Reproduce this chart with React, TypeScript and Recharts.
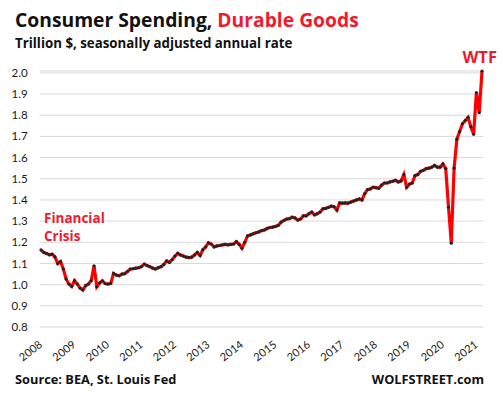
import { LineChart, Line, XAxis, YAxis, CartesianGrid } from 'recharts';

// monthly, trillion $ SAAR
const Y2008 = [1.164, 1.152, 1.147, 1.141, 1.144, 1.131, 1.1, 1.109, 1.074, 1.027, 1.003, 0.992];
const Y2009 = [1.019, 1.003, 0.984, 0.975, 0.995, 1.003, 1.019, 1.089, 0.99, 1.008, 1.018, 1.005];
const Y2010 = [1.003, 1.006, 1.053, 1.045, 1.042, 1.05, 1.052, 1.062, 1.074, 1.075, 1.078, 1.08];
const Y2011 = [1.085, 1.097, 1.09, 1.085, 1.078, 1.074, 1.08, 1.085, 1.095, 1.112, 1.105, 1.118];
const Y2012 = [1.135, 1.148, 1.14, 1.135, 1.13, 1.128, 1.13, 1.14, 1.152, 1.138, 1.165, 1.178];
const Y2013 = [1.198, 1.192, 1.178, 1.183, 1.185, 1.188, 1.19, 1.188, 1.19, 1.192, 1.203, 1.19];
const Y2014 = [1.172, 1.2, 1.23, 1.235, 1.24, 1.245, 1.249, 1.255, 1.258, 1.265, 1.27, 1.272];
const Y2015 = [1.275, 1.28, 1.295, 1.303, 1.31, 1.312, 1.319, 1.315, 1.305, 1.31, 1.325, 1.325];
const Y2016 = [1.335, 1.343, 1.33, 1.335, 1.343, 1.358, 1.36, 1.365, 1.371, 1.368, 1.352, 1.386];
const Y2017 = [1.385, 1.386, 1.385, 1.39, 1.395, 1.4, 1.405, 1.4, 1.43, 1.449, 1.452, 1.46];
const Y2018 = [1.458, 1.455, 1.47, 1.48, 1.48, 1.485, 1.488, 1.493, 1.485, 1.49, 1.52, 1.46];
const Y2019 = [1.475, 1.48, 1.515, 1.52, 1.535, 1.54, 1.548, 1.55, 1.555, 1.563, 1.555, 1.555];
const Y2020 = [1.57, 1.548, 1.366, 1.196, 1.55, 1.687, 1.723, 1.76, 1.775, 1.79, 1.746, 1.71];
const Y2021 = [1.907, 1.812, 2.009];

const YEARS = ['2008', '2009', '2010', '2011', '2012', '2013', '2014', '2015', '2016', '2017', '2018', '2019', '2020', '2021'];
const Y_TICKS = [0.8, 0.9, 1.0, 1.1, 1.2, 1.3, 1.4, 1.5, 1.6, 1.7, 1.8, 1.9, 2.0];

const SERIES = [
  ...Y2008, ...Y2009, ...Y2010, ...Y2011, ...Y2012, ...Y2013, ...Y2014,
  ...Y2015, ...Y2016, ...Y2017, ...Y2018, ...Y2019, ...Y2020, ...Y2021,
];
const data = SERIES.map((v, i) => ({ i, v }));
const yearTicks = YEARS.map((_, k) => k * 12);

const FONT = 'Lato, "Open Sans", sans-serif';
const HEAD = '"Open Sans", Lato, sans-serif';
const RED = '#ee1b2e';

const XTick = ({ x, y, payload }: any) => {
  const label = YEARS[Math.round(payload.value / 12)];
  const ax = x + 2;
  const ay = y + 19;
  return (
    <text x={ax} y={ay} textAnchor="end" fontSize={11} fill="#1a1a1a" fontFamily={FONT}
      transform={`rotate(-38, ${ax}, ${ay})`}>
      {label}
    </text>
  );
};

const YTick = ({ x, y, payload }: any) => (
  <text x={x - 12} y={y} dy="0.35em" textAnchor="end" fontSize={11.5} fill="#1a1a1a" fontFamily={FONT}>
    {payload.value.toFixed(1)}
  </text>
);

export default function App() {
  return (
    <div style={{ position: 'absolute', left: 0, top: 0, width: 503, height: 396, background: '#fff' }}>
      <LineChart width={503} height={396} data={data} margin={{ top: 71, right: 19.6, left: 0, bottom: 0 }}>
        <CartesianGrid vertical={false} stroke="#d9d9d9" />
        <XAxis
          type="number"
          dataKey="i"
          domain={[-0.5, 158.5]}
          ticks={yearTicks}
          interval={0}
          axisLine={false}
          tickLine={false}
          tickSize={0}
          tickMargin={0}
          height={69}
          tick={<XTick />}
        />
        <YAxis
          domain={[0.8, 2.0]}
          ticks={Y_TICKS}
          interval={0}
          axisLine={false}
          tickLine={false}
          tickSize={0}
          tickMargin={0}
          width={39.6}
          tick={<YTick />}
        />
        <Line
          type="linear"
          dataKey="v"
          stroke="#ff0000"
          strokeWidth={3.2}
          dot={{ r: 1.6, fill: '#222', stroke: 'none' }}
          isAnimationActive={false}
        />
      </LineChart>
      <svg width={503} height={396} style={{ position: 'absolute', left: 0, top: 0, pointerEvents: 'none' }}>
        <text x={15} y={27} fontFamily={HEAD} fontWeight={700} fontSize={19.3} fill="#111">
          Consumer Spending, <tspan fill={RED}>Durable Goods</tspan>
        </text>
        <text x={15} y={47.5} fontFamily={HEAD} fontWeight={700} fontSize={13.3} fill="#111">
          Trillion $, seasonally adjusted annual rate
        </text>
        <text x={497} y={63} textAnchor="end" fontFamily={HEAD} fontWeight={700} fontSize={16.5} fill={RED}>
          WTF
        </text>
        <text x={44} y={223.3} fontFamily={HEAD} fontWeight={700} fontSize={13.5} fill={RED}>Financial</text>
        <text x={44} y={241} fontFamily={HEAD} fontWeight={700} fontSize={13.5} fill={RED}>Crisis</text>
        <text x={15} y={384} fontFamily={HEAD} fontWeight={700} fontSize={12.8} fill="#111">
          Source: BEA, St. Louis Fed
        </text>
        <text x={484} y={384} textAnchor="end" fontFamily={HEAD} fontWeight={700} fontSize={12.8} fill="#111">
          WOLFSTREET.com
        </text>
      </svg>
    </div>
  );
}
